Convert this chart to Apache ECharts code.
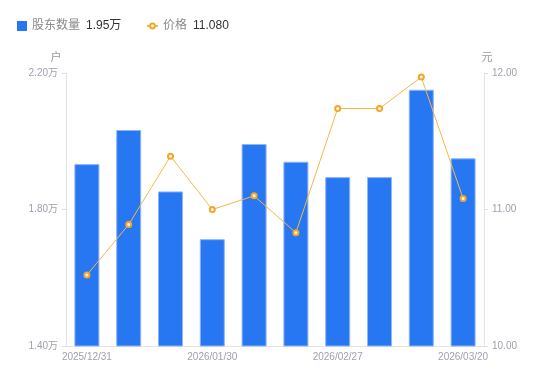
<!DOCTYPE html>
<html><head><meta charset="utf-8">
<script src="https://cdn.jsdelivr.net/npm/echarts@6/dist/echarts.min.js"></script>
<style>html,body{margin:0;padding:0;background:#fff}#c{width:550px;height:381px}</style>
</head><body><div id="c"></div>
<script>
const categories = ['2025/12/31','2026/01/09','2026/01/20','2026/01/30','2026/02/06','2026/02/13','2026/02/27','2026/03/06','2026/03/13','2026/03/20'];
const holders = [1.933, 2.033, 1.853, 1.713, 1.992, 1.940, 1.895, 1.895, 2.151, 1.95];
const prices = [10.52, 10.89, 11.39, 11.00, 11.10, 10.83, 11.74, 11.74, 11.97, 11.08];
const leftTicks = [1.4, 1.8, 2.2];

const FONT = "'Liberation Sans', 'Noto Sans CJK SC', sans-serif";
const chart = echarts.init(document.getElementById('c'));
const lastVals = {'股东数量': holders[holders.length-1].toFixed(2) + '万', '价格': prices[prices.length-1].toFixed(3)};
const legendText = {
  rich: {
    n: {color: '#8a8a8a', fontSize: 12, fontFamily: FONT, padding: [0, 6, 0, 0]},
    v: {color: '#333', fontSize: 12, fontFamily: FONT}
  }
};
chart.setOption({
  animation: false,
  textStyle: {fontFamily: FONT},
  legend: [{
    left: 12, top: 15, itemWidth: 10, itemHeight: 10, itemGap: 4,
    data: [{name: '股东数量', icon: 'rect', itemStyle: {borderWidth: 0}}],
    formatter: n => `{n|${n}}{v|${lastVals[n]}}`,
    textStyle: legendText
  }, {
    left: 141, top: 15, itemWidth: 11, itemHeight: 6, itemGap: 4,
    data: [{name: '价格'}],
    formatter: n => `{n|${n}}{v|${lastVals[n]}}`,
    textStyle: legendText
  }],
  grid: {left: 66, right: 66, top: 73, bottom: 35},
  xAxis: {
    type: 'category', data: categories,
    axisLine: {lineStyle: {color: '#e3e3e3'}},
    axisTick: {show: false},
    axisLabel: {interval: 2, color: '#a0a0ad', fontSize: 10, margin: 6}
  },
  yAxis: [{
    type: 'value', min: 1.4, max: 2.2, name: '户', nameGap: 10,
    nameTextStyle: {color: '#999', fontSize: 11, padding: [0, 20, 0, 0]},
    axisLine: {show: true, lineStyle: {color: '#e3e3e3'}},
    axisTick: {show: true, length: 4, customValues: leftTicks, lineStyle: {color: '#ddd'}},
    axisLabel: {customValues: leftTicks, color: '#a0a0ad', fontSize: 10, margin: 8, formatter: v => v.toFixed(2) + '万'},
    splitLine: {show: false}
  }, {
    type: 'value', min: 10, max: 12, interval: 1, name: '元', nameGap: 10,
    nameTextStyle: {color: '#999', fontSize: 11, padding: [0, 0, 0, 6]},
    axisLine: {show: true, lineStyle: {color: '#e3e3e3'}},
    axisTick: {show: true, length: 4, lineStyle: {color: '#ddd'}},
    axisLabel: {color: '#a0a0ad', fontSize: 10, margin: 8, formatter: v => v.toFixed(2)},
    splitLine: {show: false}
  }],
  series: [{
    name: '股东数量', type: 'bar', data: holders, barWidth: 25, yAxisIndex: 0,
    itemStyle: {color: '#2777F3', borderColor: '#8fb6f7', borderWidth: 1}
  }, {
    name: '价格', type: 'line', data: prices, yAxisIndex: 1,
    symbol: 'emptyCircle', symbolSize: 5,
    lineStyle: {color: '#F8B645', width: 1},
    itemStyle: {color: '#F5A623', borderWidth: 2}
  }]
});
</script></body></html>
